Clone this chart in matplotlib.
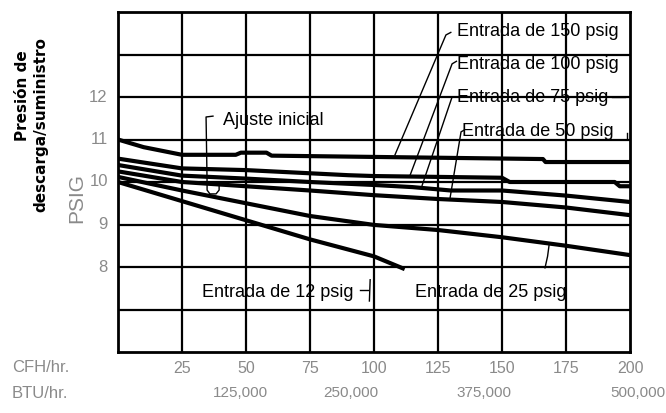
import matplotlib
matplotlib.use("Agg")
import matplotlib.pyplot as plt

# curves: CFH/hr vs outlet pressure (psig)
cfh_150 = [0, 10, 25, 46, 48, 58, 60, 100, 166, 167, 200]
psig_150 = [11.0, 10.82, 10.64, 10.64, 10.69, 10.69, 10.62, 10.59, 10.54, 10.47, 10.47]

cfh_100 = [0, 25, 50, 70, 90, 100, 150, 153, 194, 196, 200]
psig_100 = [10.55, 10.32, 10.28, 10.22, 10.16, 10.14, 10.1, 10.0, 10.0, 9.9, 9.9]

cfh_75 = [0, 25, 50, 75, 100, 115, 130, 150, 175, 200]
psig_75 = [10.4, 10.15, 10.08, 10.0, 9.93, 9.88, 9.8, 9.8, 9.68, 9.53]

cfh_50 = [0, 25, 50, 75, 100, 125, 150, 175, 200]
psig_50 = [10.25, 10.0, 9.9, 9.8, 9.69, 9.6, 9.53, 9.4, 9.22]

cfh_25 = [0, 25, 50, 75, 100, 125, 150, 175, 200]
psig_25 = [10.12, 9.8, 9.5, 9.2, 8.99, 8.87, 8.7, 8.5, 8.28]

cfh_12 = [0, 25, 50, 75, 100, 112]
psig_12 = [10.0, 9.55, 9.1, 8.65, 8.25, 7.95]

cfh_ticks = [25, 50, 75, 100, 125, 150, 175, 200]
psig_ticks = [8, 9, 10, 11, 12]
btu_pos = [48, 91, 143, 203]
btu_labels = ["125,000", "250,000", "375,000", "500,000"]

GRAY = "#8a8a8a"
plain = ["Liberation Sans", "DejaVu Sans"]

fig = plt.figure(figsize=(6.66, 4.13), dpi=100)
ax = fig.add_axes([118 / 666, 1 - 352 / 413, 512 / 666, 340 / 413])
ax.set_xlim(0, 200)
ax.set_ylim(6, 14)

for x in range(25, 200, 25):
    ax.axvline(x, color="black", lw=1.6, zorder=1)
for y in range(7, 14):
    ax.axhline(y, color="black", lw=1.6, zorder=1)
for side in ax.spines.values():
    side.set_linewidth(2.0)

ax.set_xticks([])
ax.set_yticks([])

curves = [
    (cfh_150, psig_150),
    (cfh_100, psig_100),
    (cfh_75, psig_75),
    (cfh_50, psig_50),
    (cfh_25, psig_25),
    (cfh_12, psig_12),
]
for xs, ys in curves:
    ax.plot(xs, ys, color="black", lw=3.0, solid_capstyle="butt", zorder=3)

# tick labels drawn as text so they can sit outside the frame like the scan
for v in psig_ticks:
    ax.text(-4, v, str(v), ha="right", va="center", color=GRAY, fontsize=12,
            family=plain, clip_on=False)
for v in cfh_ticks:
    ax.text(v, 5.62, str(v), ha="center", va="center", color=GRAY,
            fontsize=11.5, family=plain, clip_on=False)
for v, lab in zip(btu_pos, btu_labels):
    ax.text(v, 5.04, lab, ha="center", va="center", color=GRAY,
            fontsize=11, family=plain, clip_on=False)

fig.text(12 / 666, 1 - 368 / 413, "CFH/hr.", ha="left", va="center",
         color=GRAY, fontsize=12, family=plain)
fig.text(12 / 666, 1 - 393 / 413, "BTU/hr.", ha="left", va="center",
         color=GRAY, fontsize=12, family=plain)

fig.text(23 / 666, 1 - 96 / 413, "Presión de", rotation=90, ha="center",
         va="center", fontsize=11, fontweight="bold", family="DejaVu Sans")
fig.text(41 / 666, 1 - 125 / 413, "descarga/suministro", rotation=90,
         ha="center", va="center", fontsize=11, fontweight="bold",
         family="DejaVu Sans")
fig.text(77 / 666, 1 - 198 / 413, "PSIG", rotation=90, ha="center",
         va="center", fontsize=15, color=GRAY, family=plain)

# curve labels
lab_kw = dict(ha="left", va="center", fontsize=13, family=plain, color="black")
ax.text(132.5, 13.53, "Entrada de 150 psig", **lab_kw)
ax.text(132.5, 12.76, "Entrada de 100 psig", **lab_kw)
ax.text(132.5, 12.0, "Entrada de 75 psig", **lab_kw)
ax.text(134.5, 11.2, "Entrada de 50 psig", **lab_kw)
ax.text(41, 11.45, "Ajuste inicial", **lab_kw)
ax.text(33, 7.41, "Entrada de 12 psig", **lab_kw)
ax.text(116, 7.39, "Entrada de 25 psig", **lab_kw)

lead = dict(color="black", lw=1.0, zorder=4)
ax.plot([108.2, 128.1, 130.0], [10.64, 13.46, 13.52], **lead)
ax.plot([114.1, 130.5, 132.2], [10.16, 12.78, 12.84], **lead)
ax.plot([118.8, 130.5, 132.3], [9.92, 12.0, 12.0], **lead)
ax.plot([129.7, 134.0, 135.2], [9.62, 11.18, 11.22], **lead)
ax.plot([193.0, 198.0], [12.0, 12.0], **lead)
ax.plot([198.8, 198.8], [11.15, 11.03], **lead)
ax.plot([37.1, 34.4, 34.8, 34.8, 35.9, 38.3, 39.5, 39.5],
        [11.55, 11.53, 9.98, 9.81, 9.72, 9.72, 9.81, 9.93], **lead)
ax.plot([94.5, 97.5], [7.45, 7.45], **lead)
ax.plot([98.5, 98.2], [7.7, 7.2], **lead)
ax.plot([168.4, 167.8, 166.8], [8.52, 8.25, 7.98], **lead)

fig.savefig("out.png", dpi=100)
